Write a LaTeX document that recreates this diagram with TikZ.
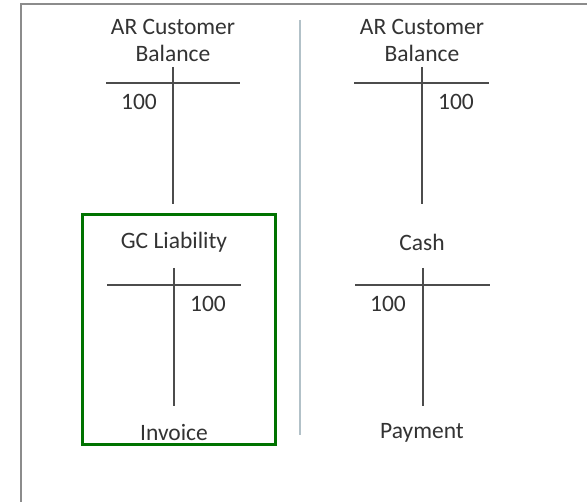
\documentclass[tikz,border=0pt]{standalone}
\usepackage{fontspec}
\setmainfont{Carlito}
\begin{document}
\begin{tikzpicture}[x=1pt,y=-1pt,
  lbl/.style={font=\fontsize{23.5}{27}\selectfont, text=black!80, inner sep=0pt, align=center},
  tline/.style={draw=black!70, line width=1.5pt},
  frame/.style={draw=black!45, line width=2.4pt},
  divider/.style={draw=cyan!20!gray!60, line width=2pt},
  greenbox/.style={draw=green!45!black, line width=3pt}]
\useasboundingbox (0,0) rectangle (587,502);
\fill[white] (0,0) rectangle (587,502);
% outer frame (cut off at right and bottom)
\draw[frame] (21,510) -- (21,4) -- (600,4);
% divider
\draw[divider] (299.5,20) -- (299.5,435);
% green box
\node[greenbox, minimum width=193pt, minimum height=230pt, inner sep=0pt] (box) at (178.5,330) {};
% --- top left T account
\node[lbl] (t1) at (173,40.5) {AR Customer\\Balance};
\coordinate (a1l) at (106,83); \coordinate (a1r) at (240,83);
\coordinate (a1t) at (173,67); \coordinate (a1b) at (173,204);
\draw[tline] (a1l) -- (a1r);
\draw[tline] (a1t) -- (a1b);
\node[lbl] (v1) at (139,102) {100};
% --- top right T account
\node[lbl] (t2) at (422,40.5) {AR Customer\\Balance};
\coordinate (a2l) at (354,83); \coordinate (a2r) at (489,83);
\coordinate (a2t) at (422,67); \coordinate (a2b) at (422,204);
\draw[tline] (a2l) -- (a2r);
\draw[tline] (a2t) -- (a2b);
\node[lbl] (v2) at (456,102) {100};
% --- bottom left T account
\node[lbl] (t3) at (174,242) {GC Liability};
\coordinate (a3l) at (107,285); \coordinate (a3r) at (241,285);
\coordinate (a3t) at (174,268); \coordinate (a3b) at (174,406);
\draw[tline] (a3l) -- (a3r);
\draw[tline] (a3t) -- (a3b);
\node[lbl] (v3) at (208,304) {100};
\node[lbl] (c3) at (174,432) {Invoice};
% --- bottom right T account
\node[lbl] (t4) at (422,242) {Cash};
\coordinate (a4l) at (355,285); \coordinate (a4r) at (490,285);
\coordinate (a4t) at (423,268); \coordinate (a4b) at (423,406);
\draw[tline] (a4l) -- (a4r);
\draw[tline] (a4t) -- (a4b);
\node[lbl] (v4) at (388,304) {100};
\node[lbl] (c4) at (422,433) {Payment};
\end{tikzpicture}
\end{document}
